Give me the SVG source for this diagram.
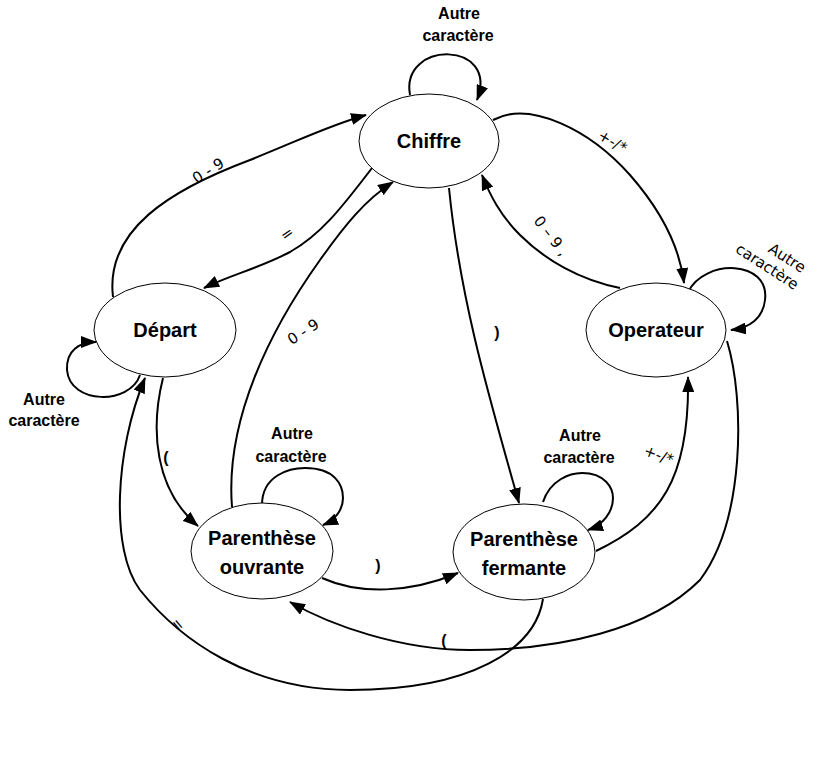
<svg xmlns="http://www.w3.org/2000/svg" width="825" height="770" viewBox="0 0 825 770">
<style>
.node ellipse{fill:#fff;stroke:#000;stroke-width:1}
.nt{font-family:"Liberation Sans",Arial,sans-serif;font-weight:bold;font-size:20px;text-anchor:middle;fill:#000}
.lb{font-family:"Liberation Sans",Arial,sans-serif;font-weight:bold;font-size:16px;text-anchor:middle;fill:#000}
.lr{font-family:"DejaVu Sans",Verdana,sans-serif;font-size:15px;text-anchor:middle;fill:#000}
.edges path{fill:none;stroke:#000;stroke-width:2;marker-end:url(#ah)}
</style>
<defs>
<marker id="ah" markerUnits="userSpaceOnUse" markerWidth="16" markerHeight="12" viewBox="0 0 16 12" refX="15" refY="6" orient="auto">
<path d="M0,0 L16,6 L0,12 Z" fill="#000"/>
</marker>
</defs>
<rect width="825" height="770" fill="#fff"/>
<g class="edges" id="connectors">
<path d="M410,95 C400,40 500,40 477,100"/>
<path d="M688,292 C705,258 770,260 765,300 C763,318 750,328 731,330"/>
<path d="M140,375 C130,405 70,405 67,370 C66,350 80,342 96,342"/>
<path d="M262,505 C262,475 290,468 305,468 C335,468 343,485 343,498 C343,510 335,520 323,525"/>
<path d="M543,502 C550,480 570,473 582,473 C605,473 613,488 613,498 C613,512 603,525 588,530"/>
<path d="M113,297 C105,230 170,190 250,160 C300,140 330,125 366,115"/>
<path d="M372,168 C340,210 320,235 290,252 C260,268 230,275 204,288"/>
<path d="M232,507 C225,420 270,330 320,260 C345,225 365,200 393,182"/>
<path d="M449,188 C460,300 490,400 519,503"/>
<path d="M493,120 C530,100 590,130 630,175 C665,215 680,250 684,283"/>
<path d="M620,288 C580,280 545,260 520,235 C500,215 490,195 482,175"/>
<path d="M163,378 C150,430 155,490 198,526"/>
<path d="M543,599 C535,650 470,690 350,690 C250,690 180,640 140,590 C110,550 115,450 145,378"/>
<path d="M322,578 C360,595 410,593 458,573"/>
<path d="M596,551 C660,520 690,480 688,377"/>
<path d="M727,341 C745,400 745,520 700,580 C650,630 560,650 470,650 C400,650 330,625 290,602"/>
</g>
<g id="edge-labels">
<text class="lb" x="459" y="19">Autre</text>
<text class="lb" x="458" y="41">caractère</text>
<text class="lr" transform="translate(776,264) rotate(33)"><tspan x="6" y="-6">Autre</tspan><tspan x="-6" y="12">caractère</tspan></text>
<text class="lb" x="44" y="405">Autre</text>
<text class="lb" x="44" y="426">caractère</text>
<text class="lb" x="292" y="439">Autre</text>
<text class="lb" x="291" y="462">caractère</text>
<text class="lb" x="580" y="441">Autre</text>
<text class="lb" x="579" y="463">caractère</text>
<text class="lr" transform="translate(211,175) rotate(-32)">0 - 9</text>
<text class="lr" transform="translate(290,238) rotate(-35)">=</text>
<text class="lr" transform="translate(306,336) rotate(-33)">0 - 9</text>
<text class="lb" x="497" y="338">)</text>
<text class="lr" transform="translate(610,146) rotate(30)">+-/*</text>
<text class="lr" transform="translate(547,239) rotate(52)">0 – 9 ,</text>
<text class="lb" x="166" y="463">(</text>
<text class="lr" transform="translate(174,628) rotate(50)">=</text>
<text class="lb" x="378" y="571">)</text>
<text class="lr" transform="translate(657,460) rotate(20)">+-/*</text>
<text class="lb" x="444" y="646">(</text>
</g>
<g class="node" id="chiffre"><ellipse cx="429" cy="141" rx="70" ry="47"/><text class="nt" x="429" y="148">Chiffre</text></g>
<g class="node" id="depart"><ellipse cx="165" cy="330" rx="71" ry="47"/><text class="nt" x="165" y="337">Départ</text></g>
<g class="node" id="operateur"><ellipse cx="656" cy="330" rx="70" ry="47"/><text class="nt" x="656" y="337">Operateur</text></g>
<g class="node" id="ouvrante"><ellipse cx="262" cy="551" rx="71" ry="48"/><text class="nt" x="262" y="545">Parenthèse</text><text class="nt" x="262" y="574">ouvrante</text></g>
<g class="node" id="fermante"><ellipse cx="524" cy="552" rx="71" ry="48"/><text class="nt" x="524" y="546">Parenthèse</text><text class="nt" x="524" y="575">fermante</text></g>
</svg>
